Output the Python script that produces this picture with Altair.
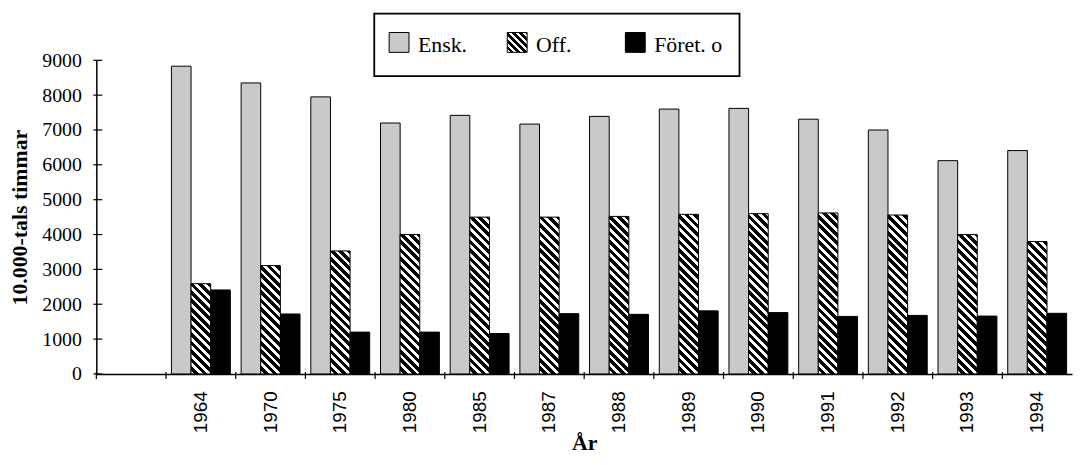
import altair as alt
import pandas as pd

# ---- data ----
series = ["Ensk.", "Off.", "Föret. o"]
years = ["1964", "1970", "1975", "1980", "1985", "1987", "1988",
         "1989", "1990", "1991", "1992", "1993", "1994"]
ensk = [8830, 8350, 7950, 7200, 7420, 7170, 7390, 7600, 7620, 7310, 7000, 6120, 6410]
off = [2590, 3110, 3530, 4000, 4500, 4500, 4520, 4580, 4600, 4620, 4560, 4000, 3800]
foret = [2410, 1720, 1200, 1200, 1160, 1730, 1710, 1810, 1760, 1650, 1680, 1660, 1740]
y_ticks = [0, 1000, 2000, 3000, 4000, 5000, 6000, 7000, 8000, 9000]

categories = [" "] + years  # first (blank) category as in the original

# ---- layout ----
PLOT_W = 983
PLOT_H = 316
Y_MAX = 9000
OFF_PAD = 0.275          # gap around each group of three bars
STEP = PLOT_W / len(categories)
BAR_W = STEP / (len(series) + 2 * OFF_PAD)

SERIF = "Liberation Serif"
SANS = "Liberation Sans"
ENSK_FILL = "#c9c9c9"


def stripes(w, h, period=8.5, n=60):
    """Diagonal black/white hatching as a linear gradient in bbox units."""
    L = n * period
    t = L / (w * w + h * h)
    stops = []
    for k in range(n):
        a, b, c = k / n, (k + 0.45) / n, (k + 1) / n
        stops += [{"offset": a, "color": "white"}, {"offset": b, "color": "white"},
                  {"offset": b, "color": "black"}, {"offset": c, "color": "black"}]
    return {"gradient": "linear", "x1": 0, "y1": 1, "x2": t * w, "y2": 1 - t * h,
            "stops": stops}


rows = []
for i, yr in enumerate(years):
    rows.append({"År": yr, "Serie": series[0], "Värde": ensk[i], "paint": ENSK_FILL})
    rows.append({"År": yr, "Serie": series[1], "Värde": off[i],
                 "paint": stripes(BAR_W, off[i] * PLOT_H / Y_MAX)})
    rows.append({"År": yr, "Serie": series[2], "Värde": foret[i], "paint": "black"})
df = pd.DataFrame(rows)

x_scale = alt.Scale(domain=categories, paddingInner=0, paddingOuter=0)
y_scale = alt.Scale(domain=[0, Y_MAX], nice=False)

x_axis = alt.Axis(title="År", titleFont=SERIF, titleFontSize=22, titleFontWeight="bold",
                  titleY=76, titleBaseline="alphabetic", titleColor="black",
                  labelAngle=270, labelAlign="right", labelBaseline="middle",
                  labelFont=SANS, labelFontSize=19, labelColor="black",
                  labelPadding=17, ticks=False, tickSize=0,
                  domainColor="black", domainWidth=1.5, grid=False)
y_axis = alt.Axis(values=y_ticks, format="d", labelOverlap=False,
                  title="10.000-tals timmar", titleFont=SERIF, titleFontSize=22,
                  titleFontWeight="bold", titleAngle=270, titleX=-70, titleY=PLOT_H / 2,
                  titleBaseline="alphabetic", titleAlign="center", titleColor="black",
                  labelFont=SERIF, labelFontSize=20, labelColor="black",
                  labelPadding=15, ticks=False, tickSize=0,
                  domainColor="black", domainWidth=1.5, grid=False)

bars = alt.Chart(df).mark_bar(stroke="black", strokeWidth=1).encode(
    x=alt.X("År:N", scale=x_scale, axis=x_axis),
    xOffset=alt.XOffset("Serie:N", scale=alt.Scale(domain=series, paddingInner=0,
                                                   paddingOuter=OFF_PAD)),
    y=alt.Y("Värde:Q", stack=None, scale=y_scale, axis=y_axis),
    fill=alt.Fill("paint:N", scale=None, legend=None),
)

# crossing tick marks at the category boundaries (x) and at the value ticks (y)
x_tickmarks = alt.Chart(pd.DataFrame({"År": categories})).mark_rule(
    color="black", strokeWidth=1.2).encode(
    x=alt.X("År:N", scale=x_scale, axis=x_axis, bandPosition=0),
    y=alt.value(PLOT_H - 2), y2=alt.value(PLOT_H + 5))

y_tickmarks = alt.Chart(pd.DataFrame({"Värde": y_ticks})).mark_rule(
    color="black", strokeWidth=1.2).encode(
    y=alt.Y("Värde:Q", scale=y_scale, axis=y_axis),
    x=alt.value(-3), x2=alt.value(6))

# ---- legend (drawn as a framed box above the bars) ----
box = alt.Chart(alt.Data(values=[{"k": 1}])).mark_rect(
    fill="white", stroke="black", strokeWidth=1.8).encode(
    x=alt.value(280), x2=alt.value(648), y=alt.value(-47), y2=alt.value(16))

legend_layers = [box]
swatch_x = [295, 414, 533]
swatch_fill = [ENSK_FILL, stripes(20, 20, period=7), "black"]
for name, sx, sf in zip(series, swatch_x, swatch_fill):
    if isinstance(sf, dict):
        fill = alt.Gradient(gradient="linear", x1=sf["x1"], y1=sf["y1"], x2=sf["x2"], y2=sf["y2"],
                            stops=[alt.GradientStop(offset=s["offset"], color=s["color"])
                                   for s in sf["stops"]])
    else:
        fill = sf
    sw = alt.Chart(alt.Data(values=[{"Serie": name}])).mark_rect(
        fill=fill, stroke="black", strokeWidth=1).encode(
        x=alt.value(sx), x2=alt.value(sx + 20), y=alt.value(-28), y2=alt.value(-8))
    tx = alt.Chart(alt.Data(values=[{"Serie": name}])).mark_text(
        font=SERIF, fontSize=22, align="left", baseline="alphabetic", color="black").encode(
        x=alt.value(sx + 29), y=alt.value(-8.5), text="Serie:N")
    legend_layers += [sw, tx]

chart = alt.layer(bars, x_tickmarks, y_tickmarks, *legend_layers).properties(
    width=PLOT_W, height=PLOT_H,
    padding={"left": 89, "top": 51, "right": 2, "bottom": 82},
    autosize=alt.AutoSizeParams(type="none"),
    background="white",
).configure_view(stroke=None)

chart.save("out.html", embed_options={"renderer": "svg", "actions": False})
